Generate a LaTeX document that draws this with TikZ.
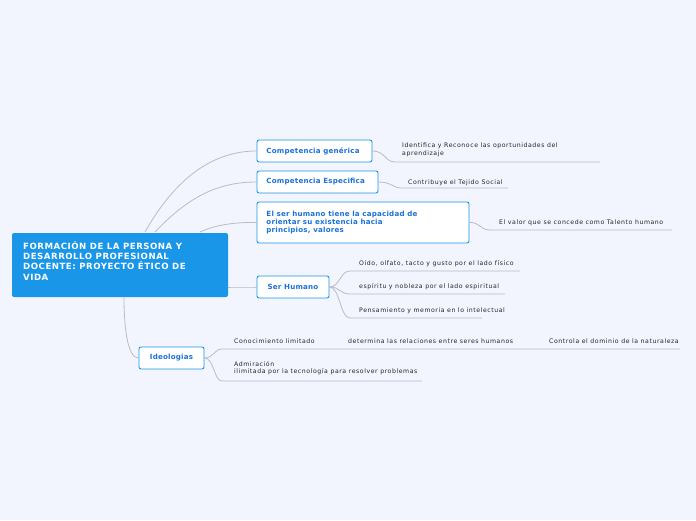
\documentclass[tikz,border=0pt]{standalone}
\usepackage{fontspec}
\setmainfont{DejaVu Sans}
\newfontfamily\leaffont[LetterSpace=9]{DejaVu Sans}
\newfontfamily\rootfont[LetterSpace=6]{DejaVu Sans}
\newfontfamily\boxfont[LetterSpace=3]{DejaVu Sans}
\definecolor{bg}{HTML}{F2F5FE}
\definecolor{rootc}{HTML}{1A96E8}
\definecolor{txtb}{HTML}{1B72D8}
\definecolor{ln}{HTML}{B8BCC6}
\begin{document}
\begin{tikzpicture}[x=1pt,y=-1pt,
 box/.style={draw=rootc,line width=0.9pt,rounded corners=2pt,fill=white,text=txtb,font=\boxfont\fontsize{7.1}{8.2}\selectfont\bfseries,align=left,inner sep=0pt},
 leaf/.style={font=\leaffont\fontsize{6.2}{7.6}\selectfont,text=black!85,anchor=west,align=left,inner sep=0pt},
 con/.style={draw=ln,line width=0.8pt}]
\fill[bg] (0,0) rectangle (696,520);
\useasboundingbox (0,0) rectangle (696,520);
% root
\node[fill=rootc,rounded corners=2pt,minimum width=216pt,minimum height=64pt,inner sep=0pt] (root) at (120,265) {};
\node[text=white,font=\rootfont\fontsize{8.6}{10.4}\selectfont\bfseries,align=left,anchor=north west,inner sep=0pt] (roottxt) at (23,241) {FORMACIÓN DE LA PERSONA Y\\DESARROLLO PROFESIONAL\\DOCENTE: PROYECTO ÉTICO DE\\VIDA};
% main boxes
\node[box,minimum width=115pt,minimum height=22pt] (cg) at (314.5,151) {};
\node[box,anchor=west,text=txtb,draw=none,fill=none] at (266,151) {Competencia genérica};
\node[box,minimum width=121pt,minimum height=22pt] (ce) at (317.5,182) {};
\node[box,anchor=west,draw=none,fill=none] at (266,182) {Competencia Especifica};
\node[box,minimum width=212pt,minimum height=41pt] (sh) at (363,222.5) {};
\node[box,anchor=west,draw=none,fill=none] at (266,222.5) {El ser humano tiene la capacidad de\\orientar su existencia hacia\\principios, valores};
\node[box,minimum width=72pt,minimum height=22pt] (ser) at (293,287) {};
\node[box,draw=none,fill=none] at (293,287) {Ser Humano};
\node[box,minimum width=65pt,minimum height=22pt] (ide) at (171.5,358) {};
\node[box,draw=none,fill=none] at (171.5,358) {Ideologias};
% root connectors
\coordinate (r1) at (145,232);
\coordinate (r2) at (155,232);
\coordinate (r3) at (200,232);
\coordinate (r4) at (228,287);
\coordinate (r5) at (124,297);
\draw[con] (r1) .. controls (180,170) and (220,151) .. (cg.west);
\draw[con] (r2) .. controls (190,195) and (220,182) .. (ce.west);
\draw[con] (r3) .. controls (215,225) and (235,222) .. (sh.west);
\draw[con] (r4) .. controls (240,287) and (250,287) .. (ser.west);
\draw[con] (r5) .. controls (124,330) and (128,358) .. (ide.west);
% leaves
\node[leaf,anchor=north west] (l1) at (402,142.5) {Identifica y Reconoce las oportunidades del\\aprendizaje};
\coordinate (u1a) at (395,162); \coordinate (u1b) at (600,162);
\draw[con] (cg.east) .. controls (385,151) and (385,162) .. (u1a) -- (u1b);
\node[leaf] (l2) at (408,182.5) {Contribuye el Tejido Social};
\coordinate (u2a) at (402,188); \coordinate (u2b) at (508,188);
\draw[con] (ce.east) .. controls (392,182) and (392,188) .. (u2a) -- (u2b);
\node[leaf] (l3) at (499,222.5) {El valor que se concede como Talento humano};
\coordinate (u3a) at (490,230); \coordinate (u3b) at (672,230);
\draw[con] (sh.east) .. controls (480,222) and (480,230) .. (u3a) -- (u3b);
\node[leaf] (s1) at (359,263.5) {Oído, olfato, tacto y gusto por el lado físico};
\node[leaf] (s2) at (359,286.5) {espíritu y nobleza por el lado espiritual};
\node[leaf] (s3) at (359,310.5) {Pensamiento y memoria en lo intelectual};
\coordinate (v1a) at (350,271); \coordinate (v1b) at (520,271);
\coordinate (v2a) at (350,294); \coordinate (v2b) at (505,294);
\coordinate (v3a) at (350,318); \coordinate (v3b) at (482,318);
\draw[con] (ser.east) .. controls (340,287) and (340,271) .. (v1a) -- (v1b);
\draw[con] (ser.east) .. controls (340,287) and (340,294) .. (v2a) -- (v2b);
\draw[con] (ser.east) .. controls (340,287) and (340,318) .. (v3a) -- (v3b);
\node[leaf] (i1) at (234,341.5) {Conocimiento limitado};
\node[leaf] (i2) at (348,341.5) {determina las relaciones entre seres humanos};
\node[leaf] (i3) at (549,341.5) {Controla el dominio de la naturaleza};
\node[leaf,anchor=north west] (i4) at (234,361) {Admiración\\ ilimitada por la tecnología para resolver problemas};
\coordinate (w1a) at (222,349); \coordinate (w1b) at (680,349);
\coordinate (w2a) at (222,381); \coordinate (w2b) at (422,381);
\draw[con] (ide.east) .. controls (214,358) and (214,349) .. (w1a) -- (w1b);
\draw[con] (ide.east) .. controls (214,358) and (214,381) .. (w2a) -- (w2b);
\end{tikzpicture}
\end{document}
